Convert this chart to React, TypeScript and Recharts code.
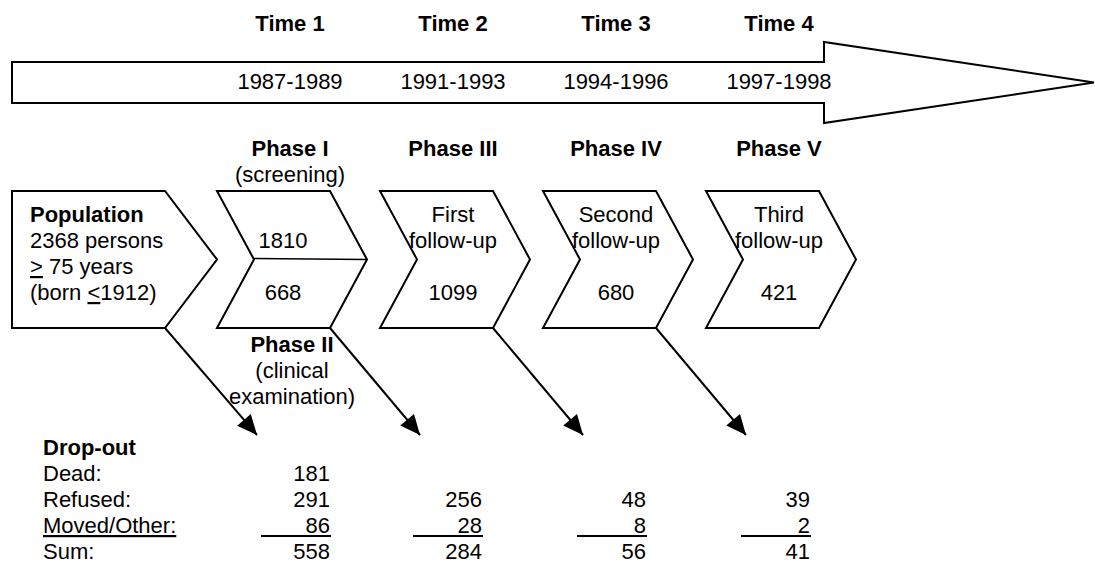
import React from 'react';
import { ComposedChart, Scatter, XAxis, YAxis } from 'recharts';

// text and counts
const TIMES = ['Time 1', 'Time 2', 'Time 3', 'Time 4'];
const PERIODS = ['1987-1989', '1991-1993', '1994-1996', '1997-1998'];
const PHASES = ['Phase I', 'Phase III', 'Phase IV', 'Phase V'];
const PHASE_NOTES = ['(screening)', '', '', ''];
const STAGE_TITLES = ['', 'First', 'Second', 'Third'];
const STAGE_SUBTITLES = ['', 'follow-up', 'follow-up', 'follow-up'];
const PARTICIPANTS = [1810, 1099, 680, 421];
const EXAMINED = 668;
const PHASE_II = ['Phase II', '(clinical', 'examination)'];
const POPULATION = ['Population', '2368 persons', '> 75 years', '(born <1912)'];
const DROP_TITLE = 'Drop-out';
const DROP_LABELS = ['Dead:', 'Refused:', 'Moved/Other:', 'Sum:'];
const DEAD = [181, null, null, null];
const REFUSED = [291, 256, 48, 39];
const MOVED = [86, 28, 8, 2];
const SUM = [558, 284, 56, 41];

// layout (the axes below map 1 unit to 1 px)
const W = 1095;
const H = 565;
const FONT = '"Liberation Sans", Arial, sans-serif';
const FS = 22;
const COL0 = 290;
const STEP = 163;
const colX = (i: number) => COL0 + STEP * i;
const BOX_TOP = 191;
const BOX_BOT = 328;
const BOX_MID = 259.5;
const CHEV_OFF = 73;
const CHEV_W = 113;
const CHEV_D = 37;
const POP_BOX = { left: 12, right: 165, tip: 217 };
const TL = { x0: 12, x1: 824, tip: 1094, top: 62, bot: 103, headTop: 42, headBot: 123, mid: 82.5 };
const INNER_DX = [-7, 0, 0, 0];
const ARROW_TIP_Y = 435;
const ARROW_TIP_DX = -33;
const VALUE_RIGHT = [330, 482, 646, 810];
const RULE_LEN = 69;
const RULE_Y = 536;
const DROP_X = 43;
const DROP_TITLE_Y = 455;
const ROW_Y = [481, 507, 533, 559];

type Seg = { t: string; u?: boolean };
type Label = { x: number; y: number; segs: Seg[]; anchor: 'start' | 'middle' | 'end'; bold?: boolean };
type Pt = { x: number; y: number; head?: boolean; ang?: number };

const plain = (t: string): Seg[] => [{ t }];
// the source marks >= and <= as an underlined > / <
const withUnderlinedSign = (t: string): Seg[] => {
  const m = t.match(/^(.*?)([<>])(.*)$/);
  return m ? [{ t: m[1] }, { t: m[2], u: true }, { t: m[3] }].filter((s) => s.t !== '') : plain(t);
};

const labels: Label[] = [];
TIMES.forEach((t, i) => labels.push({ x: colX(i), y: 31, segs: plain(t), anchor: 'middle', bold: true }));
PERIODS.forEach((t, i) => labels.push({ x: colX(i), y: 89, segs: plain(t), anchor: 'middle' }));
PHASES.forEach((t, i) => labels.push({ x: colX(i), y: 156, segs: plain(t), anchor: 'middle', bold: true }));
PHASE_NOTES.forEach((t, i) => t && labels.push({ x: colX(i), y: 182, segs: plain(t), anchor: 'middle' }));
POPULATION.forEach((t, k) =>
  labels.push({ x: 30, y: 222 + 26 * k, segs: withUnderlinedSign(t), anchor: 'start', bold: k === 0 })
);
STAGE_TITLES.forEach((t, i) => t && labels.push({ x: colX(i), y: 222, segs: plain(t), anchor: 'middle' }));
STAGE_SUBTITLES.forEach((t, i) => t && labels.push({ x: colX(i), y: 248, segs: plain(t), anchor: 'middle' }));
PARTICIPANTS.forEach((v, i) =>
  labels.push({ x: colX(i) + INNER_DX[i], y: i === 0 ? 248 : 300, segs: plain(String(v)), anchor: 'middle' })
);
labels.push({ x: colX(0) + INNER_DX[0], y: 300, segs: plain(String(EXAMINED)), anchor: 'middle' });
PHASE_II.forEach((t, k) => labels.push({ x: colX(0) + 2, y: 352 + 26 * k, segs: plain(t), anchor: 'middle', bold: k === 0 }));
labels.push({ x: DROP_X, y: DROP_TITLE_Y, segs: plain(DROP_TITLE), anchor: 'start', bold: true });
DROP_LABELS.forEach((t, k) =>
  labels.push({ x: DROP_X, y: ROW_Y[k], segs: [{ t, u: t === 'Moved/Other:' }], anchor: 'start' })
);
[DEAD, REFUSED, MOVED, SUM].forEach((row, k) =>
  row.forEach((v, i) => {
    if (v !== null) labels.push({ x: VALUE_RIGHT[i], y: ROW_Y[k], segs: plain(String(v)), anchor: 'end' });
  })
);

// outlines: closed by repeating the first two vertices so every corner is joined
const close = (pts: Pt[]): Pt[] => [...pts, pts[0], pts[1]];
const outlines: Pt[][] = [];
outlines.push(
  close([
    { x: TL.x0, y: TL.top },
    { x: TL.x1, y: TL.top },
    { x: TL.x1, y: TL.headTop },
    { x: TL.tip, y: TL.mid },
    { x: TL.x1, y: TL.headBot },
    { x: TL.x1, y: TL.bot },
    { x: TL.x0, y: TL.bot },
  ])
);
outlines.push(
  close([
    { x: POP_BOX.left, y: BOX_TOP },
    { x: POP_BOX.right, y: BOX_TOP },
    { x: POP_BOX.tip, y: BOX_MID },
    { x: POP_BOX.right, y: BOX_BOT },
    { x: POP_BOX.left, y: BOX_BOT },
  ])
);
PHASES.forEach((_, i) => {
  const L = colX(i) - CHEV_OFF;
  outlines.push(
    close([
      { x: L, y: BOX_TOP },
      { x: L + CHEV_W, y: BOX_TOP },
      { x: L + CHEV_W + CHEV_D, y: BOX_MID },
      { x: L + CHEV_W, y: BOX_BOT },
      { x: L, y: BOX_BOT },
      { x: L + CHEV_D, y: BOX_MID },
    ])
  );
});
// phase I is split into screened / examined
const divider: Pt[] = [
  { x: colX(0) - CHEV_OFF + CHEV_D, y: BOX_MID - 1 },
  { x: colX(0) - CHEV_OFF + CHEV_W + CHEV_D, y: BOX_MID },
];

// drop-out arrows leave the lower right corner of each stage
const arrowStarts = [POP_BOX.right, ...[0, 1, 2].map((i) => colX(i) - CHEV_OFF + CHEV_W)];
const arrows: Pt[][] = arrowStarts.map((sx, i) => {
  const tx = colX(i) + ARROW_TIP_DX;
  const ang = Math.atan2(ARROW_TIP_Y - BOX_BOT, tx - sx);
  return [
    { x: sx, y: BOX_BOT },
    { x: tx, y: ARROW_TIP_Y, head: true, ang },
  ];
});

const rules: Pt[][] = VALUE_RIGHT.map((r) => [
  { x: r - RULE_LEN, y: RULE_Y },
  { x: r + 1, y: RULE_Y },
]);

const Nothing = () => <g />;

const Head = (p: any) => {
  const d = p.payload as Pt;
  if (!d.head) return <g />;
  const a = d.ang || 0;
  const len = 20;
  const hw = 9;
  const bx = p.cx - len * Math.cos(a);
  const by = p.cy - len * Math.sin(a);
  const pts = [
    [p.cx, p.cy],
    [bx - hw * Math.sin(a), by + hw * Math.cos(a)],
    [bx + hw * Math.sin(a), by - hw * Math.cos(a)],
  ];
  return <polygon points={pts.map((q) => q.join(',')).join(' ')} fill="#000" />;
};

const TextMark = (p: any) => {
  const d = p.payload as Label;
  return (
    <text
      x={p.cx}
      y={p.cy}
      textAnchor={d.anchor}
      fontFamily={FONT}
      fontSize={FS}
      fontWeight={d.bold ? 700 : 400}
      fill="#000"
      style={{ whiteSpace: 'pre' }}
    >
      {d.segs.map((s, k) => (
        <tspan key={k} textDecoration={s.u ? 'underline' : undefined}>
          {s.t}
        </tspan>
      ))}
    </text>
  );
};

const stroke = { stroke: '#000', strokeWidth: 2 };

export default function App() {
  return (
    <div style={{ position: 'absolute', left: 0, top: 0, width: W, height: H, background: '#fff' }}>
      <ComposedChart width={W} height={H} margin={{ top: 0, right: 0, bottom: 0, left: 0 }}>
        <XAxis type="number" dataKey="x" domain={[0, W]} allowDataOverflow hide />
        <YAxis type="number" dataKey="y" domain={[0, H]} allowDataOverflow reversed hide />
        {outlines.map((pts, k) => (
          <Scatter key={`o${k}`} data={pts} line={{ ...stroke, strokeLinejoin: 'miter' }} shape={Nothing} isAnimationActive={false} />
        ))}
        <Scatter data={divider} line={{ ...stroke, strokeWidth: 1.5 }} shape={Nothing} isAnimationActive={false} />
        {rules.map((pts, k) => (
          <Scatter key={`r${k}`} data={pts} line={stroke} shape={Nothing} isAnimationActive={false} />
        ))}
        {arrows.map((pts, k) => (
          <Scatter key={`a${k}`} data={pts} line={stroke} shape={Head} isAnimationActive={false} />
        ))}
        <Scatter data={labels} shape={TextMark} isAnimationActive={false} />
      </ComposedChart>
    </div>
  );
}
